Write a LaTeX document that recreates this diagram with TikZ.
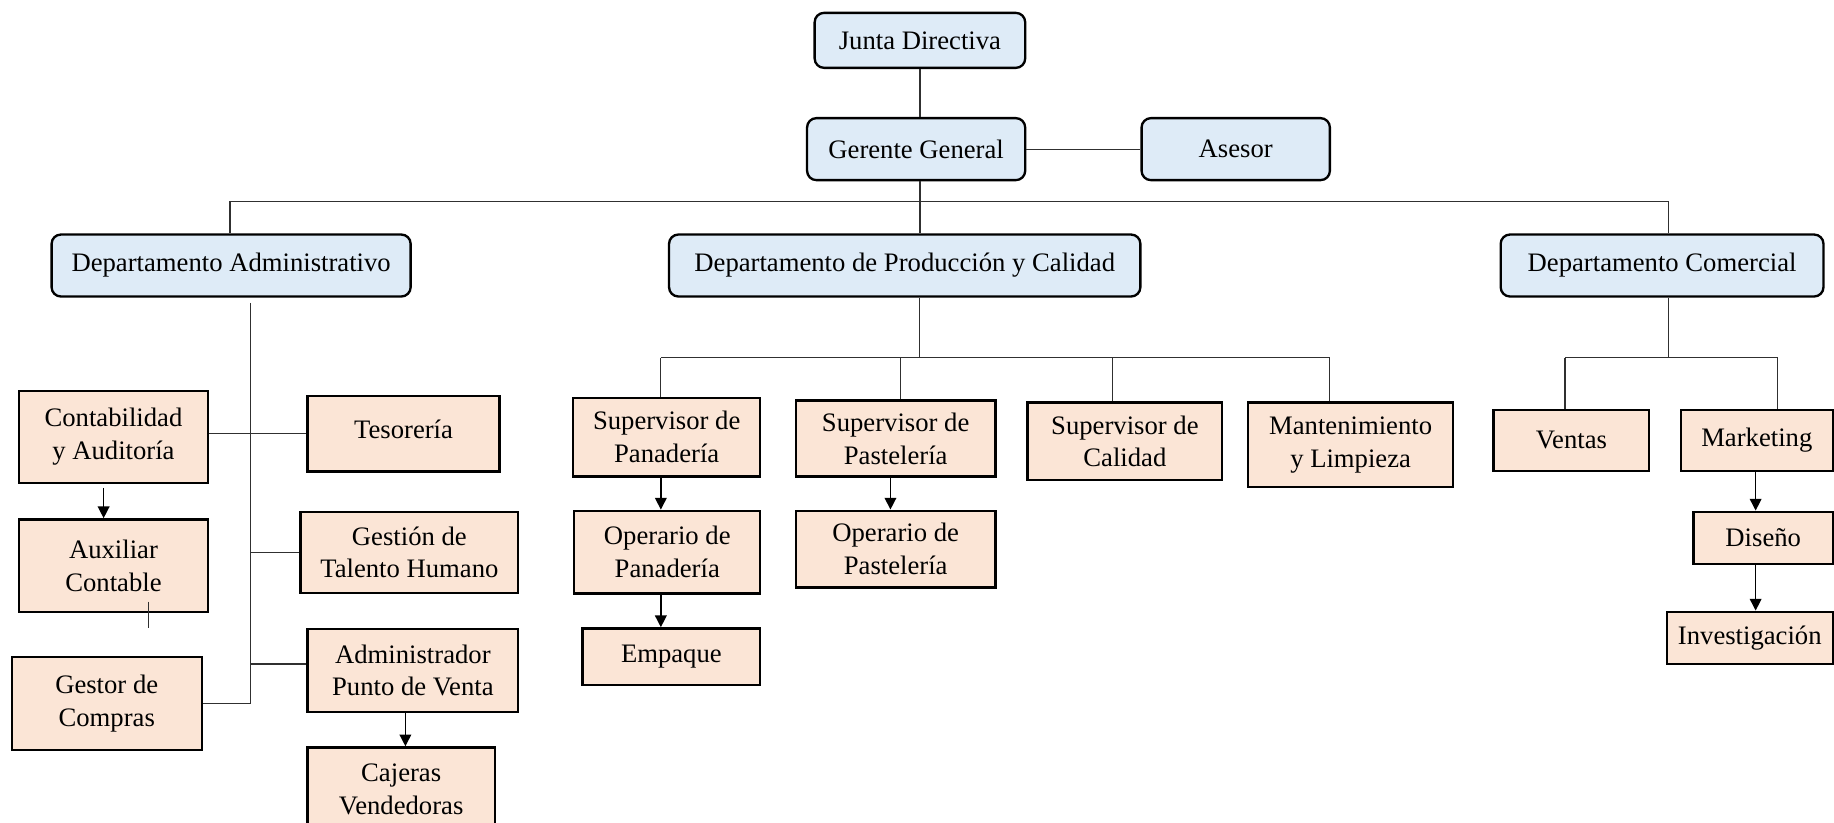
\documentclass[tikz,border=0pt]{standalone}
\usepackage{fontspec}
\setmainfont{Liberation Serif}
\usetikzlibrary{arrows.meta}
\definecolor{bfill}{HTML}{DEEBF7}
\definecolor{ofill}{HTML}{FBE5D6}
\definecolor{lnc}{HTML}{303030}
\tikzset{
  basebox/.style={draw=black, line width=1pt, inner sep=1pt, align=center,
    font=\fontsize{11.4}{14}\selectfont},
  bluebox/.style={basebox, fill=bfill, rounded corners=4pt},
  orbox/.style={basebox, fill=ofill},
  conn/.style={draw=lnc, line width=0.5pt},
  arr/.style={draw=black, line width=0.6pt, -{Triangle[width=5pt,length=5pt]}}
}
\begin{document}
\begin{tikzpicture}[x=0.5pt,y=-0.5pt]
\useasboundingbox (0,0) rectangle (1568,703);
\clip (0,0) rectangle (1568,703);
\fill[white] (0,0) rectangle (1568,703);
% top level
\node[bluebox, minimum width=90pt, minimum height=23.5pt] (jd) at (786.5,34.5) {Junta Directiva};
\node[bluebox, minimum width=93.25pt, minimum height=26.5pt] (gg) at (783.25,127.5) {Gerente General};
\node[bluebox, minimum width=80.5pt, minimum height=26.5pt] (as) at (1056.5,127.5) {Asesor};
\node[bluebox, minimum width=153.5pt, minimum height=26.5pt] (da) at (197.6,227) {Departamento Administrativo};
\node[bluebox, minimum width=201.5pt, minimum height=26.5pt] (dp) at (773.5,227) {Departamento de Producción y Calidad};
\node[bluebox, minimum width=138pt, minimum height=26.5pt] (dc) at (1421,227) {Departamento Comercial};
% administrative
\node[orbox, minimum width=81pt, minimum height=39.5pt] (ca) at (97,373.5) {Contabilidad\\y Auditoría};
\node[orbox, minimum width=82pt, minimum height=32.25pt] (te) at (345,370.75) {\raisebox{3.5pt}{Tesorería}};
\node[orbox, minimum width=81pt, minimum height=39.5pt] (ac) at (97,483.5) {Auxiliar\\Contable};
\node[orbox, minimum width=93pt, minimum height=34.75pt] (gt) at (350,472.25) {Gestión de\\Talento Humano};
\node[orbox, minimum width=90pt, minimum height=35.25pt] (ap) at (353,573.25) {Administrador\\Punto de Venta};
\node[orbox, minimum width=81.25pt, minimum height=39.75pt] (gc) at (91.25,601.25) {Gestor de\\Compras};
\node[orbox, minimum width=80pt, minimum height=36pt] (cv) at (343,675) {Cajeras\\Vendedoras};
% production
\node[orbox, minimum width=80pt, minimum height=33.75pt] (sp) at (570,373.75) {Supervisor de\\Panadería};
\node[orbox, minimum width=85.25pt, minimum height=32.5pt] (ss) at (765.75,375) {Supervisor de\\Pastelería};
\node[orbox, minimum width=83.25pt, minimum height=33.25pt] (sc) at (961.75,377.25) {Supervisor de\\Calidad};
\node[orbox, minimum width=87.75pt, minimum height=36.25pt] (ml) at (1154.75,380.25) {Mantenimiento\\y Limpieza};
\node[orbox, minimum width=79.5pt, minimum height=35.35pt] (op) at (570.5,472) {Operario de\\Panadería};
\node[orbox, minimum width=76pt, minimum height=24.25pt] (em) at (574,561.45) {Empaque};
\node[orbox, minimum width=85.25pt, minimum height=32.8pt] (os) at (765.75,469.4) {Operario de\\Pastelería};
% commercial
\node[orbox, minimum width=66.5pt, minimum height=26pt] (ve) at (1343.5,376.5) {Ventas};
\node[orbox, minimum width=65pt, minimum height=26pt] (mk) at (1502,376.5) {Marketing};
\node[orbox, minimum width=59.5pt, minimum height=22.25pt] (di) at (1507.5,459.75) {Diseño};
\node[orbox, minimum width=71pt, minimum height=22.35pt] (in) at (1496,545.35) {Investigación};
% coordinates
\coordinate (busL) at (196.7,172.4);
\coordinate (busC) at (786.5,172.4);
\coordinate (busR) at (1426.4,172.4);
\coordinate (admT) at (214,259);
\coordinate (admB) at (214,601.3);
\coordinate (tickA) at (127,514.4);
\coordinate (tickB) at (127,537);
\coordinate (pv) at (786.4,305.8);
\coordinate (p1) at (565,305.8);
\coordinate (p2) at (769.8,305.8);
\coordinate (p3) at (951.4,305.8);
\coordinate (p4) at (1137,305.8);
\coordinate (cv0) at (1426.4,305.8);
\coordinate (c1) at (1338,305.8);
\coordinate (c2) at (1520,305.8);
\coordinate (xca) at (88.6,417);
\coordinate (xap) at (346.6,0);
\coordinate (xps) at (761.3,0);
\coordinate (xmk) at (1501,0);
% top connectors
\draw[conn] (jd.south) -- (jd.south |- gg.north);
\draw[conn] (gg.east) -- (as.west);
\draw[conn] (busC |- gg.south) -- (busC |- dp.north);
\draw[conn] (busL |- da.north) -- (busL) -- (busR) -- (busR |- dc.north);
% administrative connectors
\draw[conn] (admT) -- (admB) -- (admB -| gc.east);
\draw[conn] (ca.east |- te.west) -- (te.west);
\draw[conn] (admT |- gt.west) -- (gt.west);
\draw[conn] (admT |- 0,567.7) -- (ap.west |- 0,567.7);
\draw[conn] (tickA) -- (tickB);
\draw[arr] (xca) -- (xca |- ac.north);
\draw[arr] (xap |- ap.south) -- (xap |- cv.north);
% production connectors
\draw[conn] (pv |- dp.south) -- (pv);
\draw[conn] (p1) -- (p4);
\draw[conn] (p1) -- (p1 |- sp.north);
\draw[conn] (p2) -- (p2 |- ss.north);
\draw[conn] (p3) -- (p3 |- sc.north);
\draw[conn] (p4) -- (p4 |- ml.north);
\draw[arr] (p1 |- sp.south) -- (p1 |- op.north);
\draw[arr] (p1 |- op.south) -- (p1 |- em.north);
\draw[arr] (xps |- ss.south) -- (xps |- os.north);
% commercial connectors
\draw[conn] (cv0 |- dc.south) -- (cv0);
\draw[conn] (c1) -- (c2);
\draw[conn] (c1) -- (c1 |- ve.north);
\draw[conn] (c2) -- (c2 |- mk.north);
\draw[arr] (xmk |- mk.south) -- (xmk |- di.north);
\draw[arr] (xmk |- di.south) -- (xmk |- in.north);
\end{tikzpicture}
\end{document}
